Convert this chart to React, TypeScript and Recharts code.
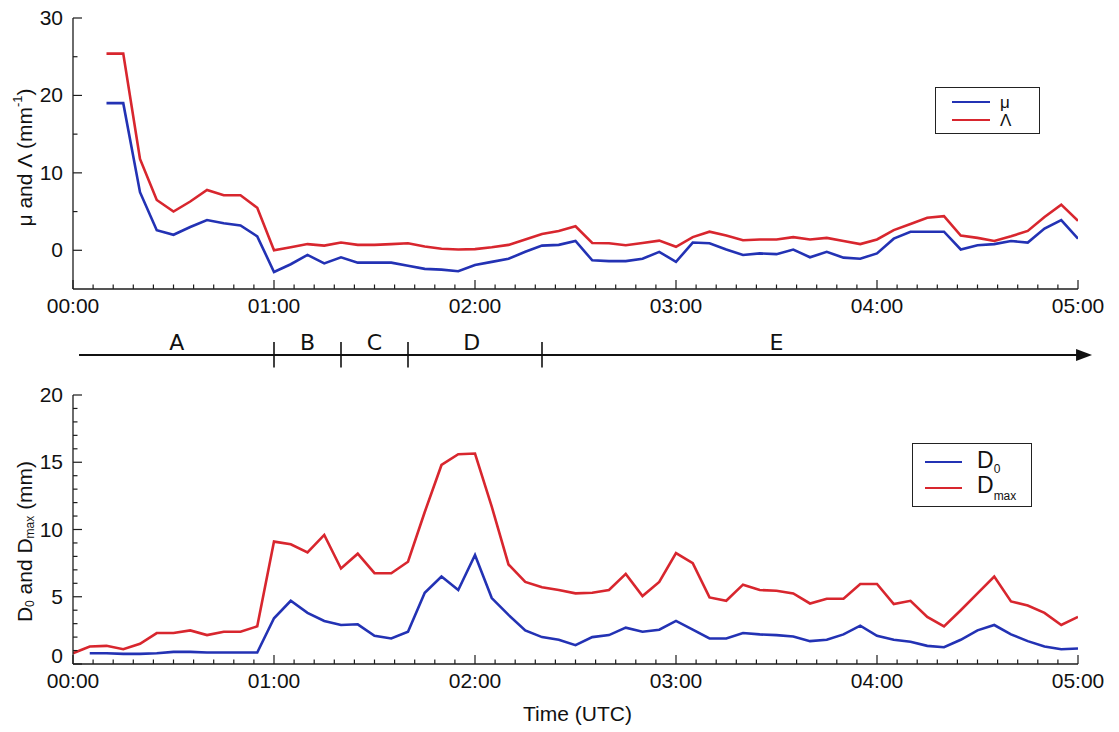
import React from 'react';
import { LineChart, Line, XAxis, YAxis, Legend, ReferenceLine, ReferenceDot } from 'recharts';

// time axis (minutes after 00:00 UTC), one sample every 5 minutes
const minutes = [
  0, 5, 10, 15, 20, 25, 30, 35, 40, 45, 50, 55,
  60, 65, 70, 75, 80, 85, 90, 95, 100, 105, 110, 115,
  120, 125, 130, 135, 140, 145, 150, 155, 160, 165, 170, 175,
  180, 185, 190, 195, 200, 205, 210, 215, 220, 225, 230, 235,
  240, 245, 250, 255, 260, 265, 270, 275, 280, 285, 290, 295,
  300,
];

const muValues = [
  null, null, 19.0, 19.0, 7.5, 2.6, 2.0, 3.0, 3.9, 3.5, 3.2, 1.8,
  -2.8, -1.8, -0.6, -1.7, -0.9, -1.6, -1.6, -1.6, -2.0, -2.4, -2.5, -2.7,
  -1.9, -1.5, -1.1, -0.2, 0.6, 0.7, 1.2, -1.3, -1.4, -1.4, -1.1, -0.2,
  -1.5, 1.0, 0.9, 0.1, -0.6, -0.4, -0.5, 0.1, -0.9, -0.2, -0.95, -1.1,
  -0.4, 1.5, 2.4, 2.4, 2.4, 0.1, 0.65, 0.8, 1.2, 1.0, 2.8, 3.9,
  1.5,
];

const lambdaValues = [
  null, null, 25.4, 25.4, 11.8, 6.5, 5.0, 6.3, 7.8, 7.1, 7.1, 5.5,
  0.0, 0.4, 0.8, 0.6, 1.0, 0.7, 0.7, 0.8, 0.9, 0.5, 0.2, 0.1,
  0.15, 0.4, 0.7, 1.4, 2.1, 2.5, 3.1, 0.95, 0.9, 0.65, 0.95, 1.25,
  0.45, 1.7, 2.4, 1.9, 1.3, 1.4, 1.4, 1.7, 1.4, 1.6, 1.2, 0.8,
  1.4, 2.6, 3.4, 4.2, 4.4, 1.9, 1.6, 1.2, 1.8, 2.5, 4.3, 5.9,
  3.8,
];

const d0Values = [
  null, 0.8, 0.8, 0.75, 0.75, 0.8, 0.9, 0.9, 0.85, 0.85, 0.85, 0.85,
  3.4, 4.7, 3.8, 3.2, 2.9, 2.95, 2.1, 1.9, 2.4, 5.3, 6.5, 5.5,
  8.1, 4.9, 3.65, 2.5, 2.0, 1.8, 1.4, 2.0, 2.15, 2.7, 2.4, 2.55,
  3.2, 2.55, 1.9, 1.9, 2.3, 2.2, 2.15, 2.05, 1.7, 1.8, 2.2, 2.85,
  2.1, 1.8, 1.65, 1.35, 1.25, 1.8, 2.5, 2.9, 2.2, 1.7, 1.3, 1.1,
  1.15,
];

const dmaxValues = [
  0.8, 1.3, 1.35, 1.1, 1.5, 2.3, 2.3, 2.5, 2.15, 2.4, 2.4, 2.8,
  9.1, 8.9, 8.3, 9.6, 7.1, 8.2, 6.75, 6.75, 7.6, 11.3, 14.8, 15.6,
  15.65, 11.7, 7.4, 6.1, 5.7, 5.5, 5.25, 5.3, 5.5, 6.7, 5.05, 6.1,
  8.25, 7.5, 4.95, 4.7, 5.9, 5.5, 5.45, 5.25, 4.5, 4.85, 4.85, 5.95,
  5.95, 4.45, 4.7, 3.5, 2.8, 4.0, 5.25, 6.5, 4.65, 4.35, 3.8, 2.9,
  3.5,
];

const hourTicks = [0, 60, 120, 180, 240, 300];
const hourLabels = ['00:00', '01:00', '02:00', '03:00', '04:00', '05:00'];
const timeTicks = Array.from({ length: 51 }, (_, i) => i * 6);

const muTicks = [0, 5, 10, 15, 20, 25, 30];
const muLabelled = [0, 10, 20, 30];
const dTicks = [0, 1, 2, 3, 4, 5, 6, 7, 8, 9, 10, 11, 12, 13, 14, 15, 16, 17, 18, 19, 20];
const dLabelled = [0, 5, 10, 15, 20];

const phaseBounds = [60, 80, 100, 140];
const phaseLabels = ['A', 'B', 'C', 'D', 'E'];
const phaseLabelAt = [31, 70, 90, 119, 210];
const arrowFrom = 1.8;
const arrowTo = 304.2;

const BLUE = '#2332b4';
const RED = '#d8262e';
const AXIS = '#1c1c1c';
const FONT = '"Liberation Sans", Arial, Helvetica, sans-serif';
const txt = { fontFamily: FONT };

const topData = minutes.map((t, i) => ({ t, mu: muValues[i], lambda: lambdaValues[i] }));
const bottomData = minutes.map((t, i) => ({ t, d0: d0Values[i], dmax: dmaxValues[i] }));
const phaseData = phaseLabels.map((label, i) => ({ label, at: phaseLabelAt[i] }));

function TimeTick(props: any) {
  const { x, y, payload, side } = props;
  const idx = hourTicks.indexOf(payload.value);
  const len = idx >= 0 ? 9 : 4.5;
  const dir = side === 'bottom' ? -1 : 1;
  return (
    <g>
      <line x1={x} x2={x} y1={y} y2={y + dir * len} stroke={AXIS} strokeWidth={1.2} />
      {side === 'bottom' && idx >= 0 ? (
        <text x={x} y={y + 24} textAnchor="middle" fontSize={21} style={txt} fill="#111">
          {hourLabels[idx]}
        </text>
      ) : null}
    </g>
  );
}

function ValueTick(props: any) {
  const { x, y, payload, side, labelled, lowLift } = props;
  const show = labelled.includes(payload.value);
  const len = show ? 9 : 4.5;
  const dir = side === 'left' ? 1 : -1;
  // the lowest label sits a little higher so it clears the time labels
  const lift = payload.value === labelled[0] ? lowLift || 0 : 0;
  return (
    <g>
      <line x1={x} x2={x + dir * len} y1={y} y2={y} stroke={AXIS} strokeWidth={1.2} />
      {side === 'left' && show ? (
        <text x={x - 10} y={y + 7 - lift} textAnchor="end" fontSize={21} style={txt} fill="#111">
          {payload.value}
        </text>
      ) : null}
    </g>
  );
}

function TopYTitle(props: any) {
  const vb = props.viewBox || { x: 13, y: 18, width: 60, height: 271 };
  const cx = vb.x + 11;
  const cy = vb.y + vb.height / 2 + 4;
  return (
    <text
      x={cx}
      y={cy}
      transform={`rotate(-90, ${cx}, ${cy})`}
      textAnchor="middle"
      dominantBaseline="central"
      fontSize={21}
      style={txt}
      fill="#111"
    >
      μ and Λ (mm<tspan dy={-7} fontSize={13}>-1</tspan>
      <tspan dy={7}>)</tspan>
    </text>
  );
}

function BottomYTitle(props: any) {
  const vb = props.viewBox || { x: 13, y: 15, width: 60, height: 269 };
  const cx = vb.x + 11;
  const cy = vb.y + vb.height / 2 + 12;
  return (
    <text
      x={cx}
      y={cy}
      transform={`rotate(-90, ${cx}, ${cy})`}
      textAnchor="middle"
      dominantBaseline="central"
      fontSize={21}
      style={txt}
      fill="#111"
    >
      D<tspan dy={6} fontSize={12}>0</tspan>
      <tspan dy={-6}> and D</tspan>
      <tspan dy={6} fontSize={12}>max</tspan>
      <tspan dy={-6}> (mm)</tspan>
    </text>
  );
}

function TimeTitle(props: any) {
  const vb = props.viewBox || { x: 73, y: 284, width: 1005, height: 68 };
  return (
    <text x={vb.x + vb.width / 2 + 2} y={vb.y + 57} textAnchor="middle" fontSize={21} style={txt} fill="#111">
      Time (UTC)
    </text>
  );
}

const topOrder = ['mu', 'lambda'];
const topNames: Record<string, React.ReactNode> = {
  mu: 'μ',
  lambda: 'Λ',
};
const bottomOrder = ['d0', 'dmax'];
const bottomNames: Record<string, React.ReactNode> = {
  d0: (
    <span>
      D<sub style={{ fontSize: 12, verticalAlign: -5 }}>0</sub>
    </span>
  ),
  dmax: (
    <span>
      D<sub style={{ fontSize: 12, verticalAlign: -7 }}>max</sub>
    </span>
  ),
};

function legendBox(order: string[], names: Record<string, React.ReactNode>, o: any) {
  return (props: any) => {
    const items = [...(props.payload || [])].sort(
      (a: any, b: any) => order.indexOf(a.dataKey) - order.indexOf(b.dataKey),
    );
    return (
      <div
        style={{
          width: o.w,
          height: o.h,
          boxSizing: 'border-box',
          border: '1.5px solid #222',
          background: '#fff',
          paddingTop: o.padTop,
          paddingLeft: o.padLeft,
          fontFamily: FONT,
          color: '#111',
        }}
      >
        {items.map((it: any) => (
          <div key={it.dataKey} style={{ display: 'flex', alignItems: 'center', height: o.rowH }}>
            <span style={{ display: 'inline-block', width: o.lineLen, borderTop: `2.5px solid ${it.color}`, marginRight: o.gap }} />
            <span style={{ fontSize: o.fontSize, lineHeight: 1 }}>{names[it.dataKey]}</span>
          </div>
        ))}
      </div>
    );
  };
}

function ArrowLine(props: any) {
  const { x1, y1, x2, y2, stroke, strokeWidth } = props;
  return (
    <g>
      <line x1={x1} y1={y1} x2={x2 - 10} y2={y2} stroke={stroke} strokeWidth={strokeWidth} />
      <polygon points={`${x2},${y2} ${x2 - 16},${y2 - 6} ${x2 - 16},${y2 + 6}`} fill={stroke} />
    </g>
  );
}

const axisLine = { stroke: AXIS, strokeWidth: 1.3 };

export default function App() {
  return (
    <div style={{ position: 'absolute', left: 0, top: 0, width: 1119, height: 732, background: '#fff' }}>
      <div style={{ position: 'absolute', left: 0, top: 0 }}>
        <LineChart width={1119} height={320} data={topData} margin={{ top: 18, right: 41, bottom: 0, left: 13 }}>
          <XAxis
            xAxisId="b"
            dataKey="t"
            type="number"
            domain={[0, 300]}
            ticks={timeTicks}
            interval={0}
            allowDataOverflow
            height={31}
            tickLine={false}
            tickSize={0}
            tickMargin={0}
            axisLine={axisLine}
            tick={<TimeTick side="bottom" />}
          />
          <XAxis
            xAxisId="t"
            orientation="top"
            dataKey="t"
            type="number"
            domain={[0, 300]}
            ticks={timeTicks}
            interval={0}
            allowDataOverflow
            height={0}
            tickLine={false}
            tickSize={0}
            tickMargin={0}
            axisLine={axisLine}
            tick={<TimeTick side="top" />}
          />
          <YAxis
            yAxisId="l"
            type="number"
            domain={[-5, 30]}
            ticks={muTicks}
            interval={0}
            allowDataOverflow
            width={60}
            tickLine={false}
            tickSize={0}
            tickMargin={0}
            axisLine={axisLine}
            tick={<ValueTick side="left" labelled={muLabelled} />}
            label={{ content: (p: any) => <TopYTitle {...p} /> }}
          />
          <YAxis
            yAxisId="r"
            orientation="right"
            type="number"
            domain={[-5, 30]}
            ticks={muTicks}
            interval={0}
            allowDataOverflow
            width={0}
            tickLine={false}
            tickSize={0}
            tickMargin={0}
            axisLine={axisLine}
            tick={<ValueTick side="right" labelled={muLabelled} />}
          />
          <Legend
            layout="vertical"
            align="center"
            verticalAlign="middle"
            itemSorter={null as any}
            wrapperStyle={{ left: 935, top: 87, width: 105, height: 47 }}
            content={legendBox(topOrder, topNames, { w: 105, h: 47, padTop: 5, padLeft: 16, rowH: 18, lineLen: 38, gap: 10, fontSize: 17 })}
          />
          <Line xAxisId="b" yAxisId="l" dataKey="mu" name="μ" stroke={BLUE} strokeWidth={2.6} dot={false} isAnimationActive={false} />
          <Line xAxisId="b" yAxisId="l" dataKey="lambda" name="Λ" stroke={RED} strokeWidth={2.6} dot={false} isAnimationActive={false} />
        </LineChart>
      </div>

      <div style={{ position: 'absolute', left: 0, top: 330 }}>
        <LineChart width={1119} height={50} data={phaseData} margin={{ top: 0, right: 41, bottom: 0, left: 73 }}>
          <XAxis dataKey="at" type="number" domain={[0, 300]} hide allowDataOverflow />
          <YAxis type="number" domain={[0, 1]} hide allowDataOverflow />
          <ReferenceLine
            segment={[{ x: arrowFrom, y: 0.5 }, { x: arrowTo, y: 0.5 }]}
            ifOverflow="visible"
            stroke="#111"
            strokeWidth={2}
            shape={ArrowLine}
          />
          {phaseBounds.map((b) => (
            <ReferenceLine
              key={b}
              segment={[{ x: b, y: 0.25 }, { x: b, y: 0.76 }]}
              ifOverflow="visible"
              stroke="#111"
              strokeWidth={1.6}
            />
          ))}
          {phaseData.map((p) => (
            <ReferenceDot
              key={p.label}
              x={p.at}
              y={0.76}
              r={0}
              stroke="none"
              fill="none"
              ifOverflow="visible"
              label={{ value: p.label, position: 'center', fontSize: 22, fill: '#111', fontFamily: '"DejaVu Sans", sans-serif' }}
            />
          ))}
        </LineChart>
      </div>

      <div style={{ position: 'absolute', left: 0, top: 380 }}>
        <LineChart width={1119} height={352} data={bottomData} margin={{ top: 15, right: 41, bottom: 0, left: 13 }}>
          <XAxis
            xAxisId="b"
            dataKey="t"
            type="number"
            domain={[0, 300]}
            ticks={timeTicks}
            interval={0}
            allowDataOverflow
            height={68}
            tickLine={false}
            tickSize={0}
            tickMargin={0}
            axisLine={axisLine}
            tick={<TimeTick side="bottom" />}
            label={{ content: (p: any) => <TimeTitle {...p} /> }}
          />
          <XAxis
            xAxisId="t"
            orientation="top"
            dataKey="t"
            type="number"
            domain={[0, 300]}
            ticks={timeTicks}
            interval={0}
            allowDataOverflow
            height={0}
            tickLine={false}
            tickSize={0}
            tickMargin={0}
            axisLine={axisLine}
            tick={<TimeTick side="top" />}
          />
          <YAxis
            yAxisId="l"
            type="number"
            domain={[0, 20]}
            ticks={dTicks}
            interval={0}
            allowDataOverflow
            width={60}
            tickLine={false}
            tickSize={0}
            tickMargin={0}
            axisLine={axisLine}
            tick={<ValueTick side="left" labelled={dLabelled} lowLift={8} />}
            label={{ content: (p: any) => <BottomYTitle {...p} /> }}
          />
          <YAxis
            yAxisId="r"
            orientation="right"
            type="number"
            domain={[0, 20]}
            ticks={dTicks}
            interval={0}
            allowDataOverflow
            width={0}
            tickLine={false}
            tickSize={0}
            tickMargin={0}
            axisLine={axisLine}
            tick={<ValueTick side="right" labelled={dLabelled} />}
          />
          <Legend
            layout="vertical"
            align="center"
            verticalAlign="middle"
            itemSorter={null as any}
            wrapperStyle={{ left: 912, top: 63, width: 120, height: 64 }}
            content={legendBox(bottomOrder, bottomNames, { w: 120, h: 64, padTop: 5, padLeft: 12, rowH: 26, lineLen: 37, gap: 15, fontSize: 23 })}
          />
          <Line xAxisId="b" yAxisId="l" dataKey="d0" name="D0" stroke={BLUE} strokeWidth={2.6} dot={false} isAnimationActive={false} />
          <Line xAxisId="b" yAxisId="l" dataKey="dmax" name="Dmax" stroke={RED} strokeWidth={2.6} dot={false} isAnimationActive={false} />
        </LineChart>
      </div>
    </div>
  );
}
